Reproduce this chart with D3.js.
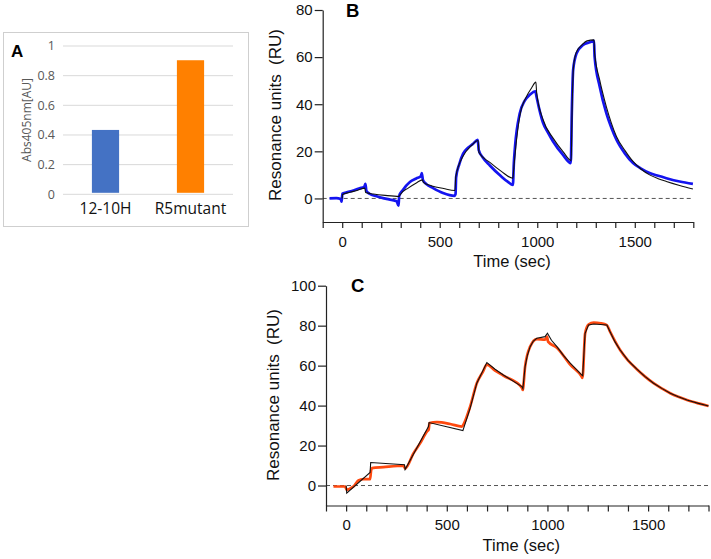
<!DOCTYPE html>
<html>
<head>
<meta charset="utf-8">
<script src="https://cdn.jsdelivr.net/npm/d3@7"></script>
<style>
  body { margin: 0; background: #fff; }
  svg { display: block; }
  .kin text { font-family: "Liberation Sans", Arial, sans-serif; }
</style>
</head>
<body>
<div id="wrapper"></div>
<script>
// panel A: ELISA bars
const barCategories = ['12-10H', 'R5mutant'];
const barValues = [0.434, 0.904];
const barColors = ['#4472c4', '#ff8000'];
const barTicks = [0, 0.2, 0.4, 0.6, 0.8, 1];

// panel B: 12-10H sensorgram [time sec, RU], measured (blue) and fit (black)
const bMeasured = [[-65,0],[-30,0.1],[-8,-0.2],[-3,-1.4],[1,2.0],[20,2.5],[57,3.4],[90,4.3],[114,5.1],[119,6.2],[124,3.2],[140,2.0],[176,0.9],[227,-0.2],[279,-1.2],[289,-3.1],[292,1.1],[310,3.5],[347,7.0],[380,8.5],[403,9.4],[408,10.8],[414,7.8],[430,6.2],[466,4.4],[517,2.3],[576,1.1],[581,1.8],[584,9.0],[600,14.5],[620,19.0],[645,21.5],[671,23.2],[695,24.9],[700,20.5],[720,17.5],[757,14.0],[816,9.3],[850,7.0],[875,5.7],[880,15.0],[886,22.0],[910,36.0],[936,41.5],[962,44.0],[990,45.5],[996,43.3],[1010,38.0],[1030,32.0],[1055,28.0],[1081,24.2],[1132,18.5],[1172,15.0],[1177,36.0],[1184,54.6],[1201,61.5],[1235,65.2],[1270,66.3],[1291,66.9],[1294,60.2],[1320,47.5],[1354,36.2],[1380,30.0],[1406,24.9],[1450,19.0],[1491,15.0],[1530,12.8],[1576,10.8],[1620,9.6],[1662,8.6],[1730,7.2],[1798,6.2]];
const bFit = [[0,0],[2,1.7],[40,2.6],[80,3.5],[116,4.4],[120,2.5],[160,1.9],[220,1.3],[292,0.85],[296,1.5],[340,4.5],[380,6.6],[412,7.9],[416,6.8],[460,5.3],[520,4.2],[578,3.4],[582,9.1],[620,18.0],[660,22.3],[697,24.6],[701,19.5],[757,15.3],[816,11.5],[875,8.6],[879,12.2],[890,22.0],[910,34.8],[945,43.3],[970,46.8],[993,49.4],[997,44.7],[1030,33.4],[1081,25.6],[1132,19.9],[1174,16.1],[1178,35.0],[1186,56.0],[1200,62.0],[1230,65.2],[1255,66.9],[1291,67.3],[1294,61.7],[1320,50.3],[1354,39.0],[1380,32.0],[1406,26.3],[1450,20.3],[1491,15.7],[1530,12.6],[1576,10.0],[1620,8.4],[1662,7.2],[1730,5.5],[1798,4.0]];

// panel C: R5mutant sensorgram, measured (orange) and fit (black)
const cMeasured = [[-63,-0.5],[-5,-0.5],[3,-2.2],[20,-1.5],[36,-0.5],[61,2.5],[86,3.2],[119,3.2],[124,7.5],[128,8.7],[185,9.2],[285,9.9],[293,8.5],[335,16.2],[368,21.2],[401,27.0],[410,28.0],[414,31.2],[451,31.7],[517,30.8],[575,29.5],[585,31.0],[616,39.5],[649,51.2],[680,57.0],[699,60.5],[740,57.5],[781,55.0],[873,49.0],[877,47.8],[889,59.5],[914,69.5],[947,73.3],[988,73.0],[998,74.5],[1003,72.0],[1047,69.0],[1113,60.5],[1170,54.5],[1174,53.8],[1187,76.0],[1204,80.5],[1230,81.5],[1265,81.2],[1295,80.3],[1311,77.0],[1361,67.8],[1400,62.6],[1444,58.2],[1485,54.5],[1527,51.2],[1570,48.5],[1610,46.2],[1650,44.4],[1693,42.8],[1750,41.1],[1800,39.8]];
const cFit = [[0,0],[3,-3.8],[119,6.5],[122,11.5],[290,10.4],[293,8.0],[409,29.5],[412,31.5],[580,27.5],[616,38.7],[649,51.2],[699,61.5],[740,58.2],[781,55.3],[873,49.5],[878,48.5],[889,59.5],[900,65.0],[914,69.5],[930,72.3],[947,73.7],[988,74.5],[1000,76.2],[1020,72.7],[1047,69.5],[1080,65.0],[1113,61.2],[1171,55.3],[1175,55.0],[1187,76.2],[1204,80.3],[1230,80.8],[1295,80.3],[1311,77.0],[1335,72.0],[1361,67.8],[1400,62.6],[1444,58.2],[1485,54.5],[1527,51.2],[1570,48.5],[1610,46.2],[1650,44.4],[1693,42.8],[1750,41.1],[1800,39.8]];

const timeTicks = [0, 500, 1000, 1500];

const svg = d3.select('#wrapper')
    .append('svg')
    .attr('width', 711)
    .attr('height', 559);

// ---------- A ----------
const a = svg.append('g');

a.append('rect')
    .attr('x', 3.5).attr('y', 32.5)
    .attr('width', 245).attr('height', 194)
    .attr('fill', '#fff')
    .attr('stroke', '#cfcfcf');

const aX = d3.scaleBand()
    .domain(barCategories)
    .range([63, 233])
    .paddingInner(0.68)
    .paddingOuter(0.34);

const aY = d3.scaleLinear()
    .domain([0, 1])
    .range([194.3, 46]);

a.selectAll('.grid')
    .data(barTicks)
    .join('line')
    .attr('x1', 63).attr('x2', 233)
    .attr('y1', d => aY(d)).attr('y2', d => aY(d))
    .attr('stroke', '#d9d9d9')
    .attr('stroke-width', 1);

a.selectAll('.ytick')
    .data(barTicks)
    .join('text')
    .attr('x', 55)
    .attr('y', d => aY(d))
    .attr('dy', '0.35em')
    .attr('text-anchor', 'end')
    .style('font-family', '"Open Sans", sans-serif')
    .style('font-size', '12.5px')
    .attr('fill', '#595959')
    .text(d => d);

a.selectAll('.bar')
    .data(barValues)
    .join('rect')
    .attr('x', (d, i) => aX(barCategories[i]))
    .attr('width', aX.bandwidth())
    .attr('y', d => aY(d))
    .attr('height', d => aY(0) - aY(d) - 1.5)
    .attr('fill', (d, i) => barColors[i]);

a.selectAll('.cat')
    .data(barCategories)
    .join('text')
    .attr('x', d => aX(d) + aX.bandwidth() / 2)
    .attr('y', 214)
    .attr('text-anchor', 'middle')
    .style('font-family', '"Open Sans", sans-serif')
    .style('font-size', '15.5px')
    .attr('fill', '#111')
    .text(d => d);

a.append('text')
    .attr('transform', 'translate(31,120) rotate(-90)')
    .attr('text-anchor', 'middle')
    .style('font-family', '"Open Sans", sans-serif')
    .style('font-size', '12px')
    .attr('fill', '#595959')
    .text('Abs405nm[AU]');

a.append('text')
    .attr('x', 11).attr('y', 57)
    .style('font-family', '"Liberation Sans", Arial, sans-serif')
    .style('font-size', '17px')
    .style('font-weight', 'bold')
    .text('A');

// ---------- B and C ----------
function kinetics(opts) {
    const g = svg.append('g').attr('class', 'kin');

    const x = d3.scaleLinear().domain([-100, 1800]).range(opts.xRange);
    const y = d3.scaleLinear().domain([-10, opts.yMax]).range(opts.yRange);

    // zero baseline
    g.append('line')
        .attr('x1', x(-100)).attr('x2', x(1800))
        .attr('y1', y(0)).attr('y2', y(0))
        .attr('stroke', '#555')
        .attr('stroke-width', 1)
        .attr('stroke-dasharray', '4,3');

    const line = curve => d3.line()
        .x(d => x(d[0]))
        .y(d => y(d[1]))
        .curve(curve);

    g.append('path')
        .attr('d', line(d3.curveMonotoneX)(opts.measured))
        .attr('fill', 'none')
        .attr('stroke', opts.color)
        .attr('stroke-width', 2.7)
        .attr('stroke-linejoin', 'round');

    g.append('path')
        .attr('d', line(opts.fitCurve)(opts.fit))
        .attr('fill', 'none')
        .attr('stroke', '#111')
        .attr('stroke-width', 1.1);

    g.append('g')
        .attr('transform', `translate(0,${opts.yRange[0]})`)
        .call(d3.axisBottom(x)
            .tickValues(d3.range(-100, 1801, 100))
            .tickFormat(d => timeTicks.includes(d) ? d : '')
            .tickSize(6)
            .tickSizeOuter(0)
            .tickPadding(8));

    g.append('g')
        .attr('transform', `translate(${opts.xRange[0]},0)`)
        .call(d3.axisLeft(y)
            .tickValues(d3.range(0, opts.yMax + 1, 20))
            .tickSize(8)
            .tickSizeOuter(0)
            .tickPadding(2));

    g.selectAll('.domain, .tick line')
        .attr('stroke', '#222')
        .attr('stroke-width', 1.2);

    g.selectAll('.tick text')
        .attr('fill', '#111')
        .style('font-size', '15px');

    g.append('text')
        .attr('x', (x(-100) + x(1800)) / 2 + 4)
        .attr('y', opts.yRange[0] + 45)
        .attr('text-anchor', 'middle')
        .style('font-size', '16.5px')
        .attr('fill', '#111')
        .text('Time (sec)');

    g.append('text')
        .attr('transform', `translate(${opts.labelX},${opts.labelY}) rotate(-90)`)
        .attr('text-anchor', 'middle')
        .style('font-size', '17px')
        .style('white-space', 'pre')
        .attr('fill', '#111')
        .text('Resonance units  (RU)');

    g.append('text')
        .attr('x', opts.tagX).attr('y', opts.tagY)
        .style('font-size', '18.5px')
        .style('font-weight', 'bold')
        .text(opts.tag);
}

kinetics({
    measured: bMeasured, fit: bFit, fitCurve: d3.curveMonotoneX, color: '#1414f0',
    xRange: [322.7, 693.3], yRange: [222, 10], yMax: 80,
    labelX: 281, labelY: 115, tag: 'B', tagX: 346, tagY: 17
});

kinetics({
    measured: cMeasured, fit: cFit, fitCurve: d3.curveLinear, color: '#ff4a10',
    xRange: [326, 708.5], yRange: [505.5, 285.7], yMax: 100,
    labelX: 279, labelY: 395, tag: 'C', tagX: 351, tagY: 292
});
</script>
</body>
</html>
